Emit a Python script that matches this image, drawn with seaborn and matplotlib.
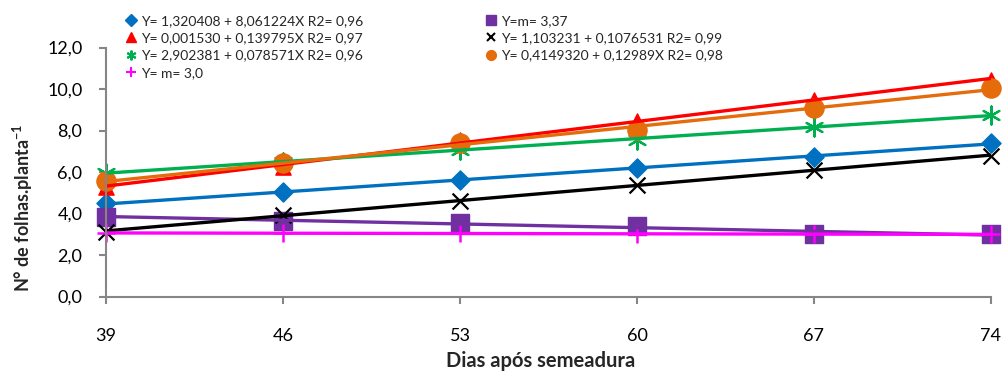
import numpy as np
import pandas as pd
import matplotlib
matplotlib.use("Agg")
import matplotlib.pyplot as plt
from matplotlib.lines import Line2D
import seaborn as sns

# ---- data ----
days = [39, 46, 53, 60, 67, 74]
blue_vals = [4.49, 5.02, 5.61, 6.18, 6.74, 7.40]
purple_vals = [3.85, 3.64, 3.53, 3.41, 3.01, 3.00]
red_vals = [5.30, 6.25, 7.55, 8.47, 9.47, 10.45]
black_vals = [3.12, 3.95, 4.60, 5.37, 6.10, 6.79]
green_vals = [5.97, 6.50, 7.06, 7.54, 8.18, 8.75]
orange_vals = [5.55, 6.45, 7.38, 8.02, 9.10, 10.03]
magenta_vals = [3.06, 3.05, 3.05, 3.01, 3.00, 3.00]

labels_col1 = ["Y= 1,320408 + 8,061224X R2= 0,96",
               "Y= 0,001530 + 0,139795X R2= 0,97",
               "Y= 2,902381 + 0,078571X R2= 0,96",
               "Y= m= 3,0"]
labels_col2 = ["Y=m= 3,37",
               "Y= 1,103231 + 0,1076531 R2= 0,99",
               "Y= 0,4149320 + 0,12989X R2= 0,98"]
y_ticks = [0, 2, 4, 6, 8, 10, 12]
y_tick_labels = ["0,0", "2,0", "4,0", "6,0", "8,0", "10,0", "12,0"]
x_label = "Dias após semeadura"
y_label = "N° de folhas.planta$^{\\mathbf{-1}}$"

# ---- style ----
sns.set_style("ticks")
plt.rcParams["font.family"] = ["Lato", "DejaVu Sans"]
plt.rcParams["mathtext.fontset"] = "custom"
plt.rcParams["mathtext.rm"] = "Lato"
plt.rcParams["mathtext.bf"] = "Lato:bold"

W, H = 1003, 371
fig = plt.figure(figsize=(W / 100, H / 100), dpi=100)
ax = fig.add_axes([106 / W, (H - 296.5) / H, (991 - 106) / W, (296.5 - 47.5) / H])

series = [
    (blue_vals, "#0070C0", "D", 95, 1.0),
    (purple_vals, "#7030A0", "s", 150, 1.0),
    (red_vals, "#FF0000", "^", 120, 1.0),
    (black_vals, "#000000", "x", 130, 1.6),
    (green_vals, "#00B050", (6, 2, 0), 170, 1.6),
    (orange_vals, "#E46C0A", "o", 190, 1.0),
    (magenta_vals, "#FF00FF", "+", 150, 1.8),
]

for vals, col, mk, size, lw in series:
    df = pd.DataFrame({"dias": days, "folhas": vals})
    sns.regplot(data=df, x="dias", y="folhas", ax=ax, ci=None, truncate=True,
                marker=mk, color=col,
                scatter_kws={"s": size, "alpha": 1, "linewidths": lw,
                             "clip_on": False},
                line_kws={"lw": 2.4, "solid_capstyle": "butt"})

ax.set_xlim(39, 74)
ax.set_ylim(0, 12)
ax.set_xticks(days)
ax.set_xticklabels([str(d) for d in days])
ax.set_yticks(y_ticks)
ax.set_yticklabels(y_tick_labels)
ax.set_xlabel("")
ax.set_ylabel("")

for s in ["top", "right"]:
    ax.spines[s].set_visible(False)
for s in ["left", "bottom"]:
    ax.spines[s].set_color("#868686")
    ax.spines[s].set_linewidth(1.5)
ax.tick_params(axis="both", colors="#868686", width=1.5, length=5,
               labelcolor="#000000", labelsize=13)
ax.tick_params(axis="y", pad=12)
ax.tick_params(axis="x", pad=18)

fig.text(541 / W, 1 - 361 / H, x_label, ha="center", va="center",
         fontsize=14.5, fontweight="bold")
fig.text(23 / W, 1 - 208 / H, y_label, ha="center", va="center",
         rotation=90, fontsize=13, fontweight="bold")

def handles(specs):
    out = []
    for col, mk, ms, mew in specs:
        out.append(Line2D([], [], linestyle="None", marker=mk, color=col,
                          markersize=ms, markeredgewidth=mew))
    return out

h1 = handles([("#0070C0", "D", 6, 1), ("#FF0000", "^", 7, 1),
              ("#00B050", (6, 2, 0), 7, 1.5), ("#FF00FF", "+", 7, 1.5)])
h2 = handles([("#7030A0", "s", 7, 1), ("#000000", "x", 6, 1.5),
              ("#E46C0A", "o", 7, 1)])

leg_kw = dict(frameon=False, fontsize=10, handlelength=0.7,
              handletextpad=0.35, labelspacing=0.38, borderpad=0,
              borderaxespad=0, loc="upper left")
fig.legend(h1, labels_col1, bbox_to_anchor=(126 / W, 1 - 15 / H), **leg_kw)
fig.legend(h2, labels_col2, bbox_to_anchor=(486 / W, 1 - 15 / H), **leg_kw)

fig.savefig("out.png", dpi=100)
